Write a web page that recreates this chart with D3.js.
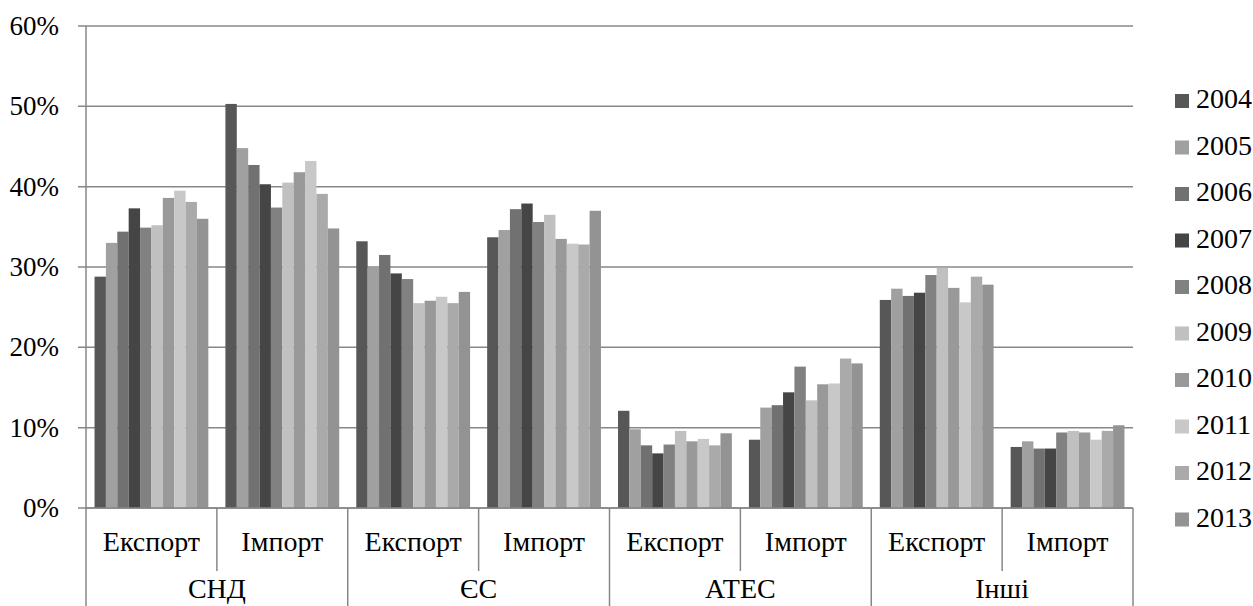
<!DOCTYPE html>
<html>
<head>
<meta charset="utf-8">
<script src="https://cdn.jsdelivr.net/npm/d3@7"></script>
<style>
  html, body { margin: 0; padding: 0; background: #fff; }
  svg { display: block; }
</style>
</head>
<body>
<div id="container"></div>
<script>
// категорії та роки
var regions = ["СНД", "ЄС", "АТЕС", "Інші"];
var flows = ["Експорт", "Імпорт"];
var years = ["2004", "2005", "2006", "2007", "2008", "2009", "2010", "2011", "2012", "2013"];
var yTicks = [0, 0.1, 0.2, 0.3, 0.4, 0.5, 0.6];

// частки, % (2004..2013)
var sndExport  = [28.8, 33.0, 34.4, 37.3, 34.9, 35.2, 38.6, 39.5, 38.1, 36.0];
var sndImport  = [50.3, 44.8, 42.7, 40.3, 37.4, 40.5, 41.8, 43.2, 39.1, 34.8];
var esExport   = [33.2, 30.0, 31.5, 29.2, 28.5, 25.5, 25.8, 26.3, 25.5, 26.9];
var esImport   = [33.7, 34.6, 37.2, 37.9, 35.6, 36.5, 33.5, 32.9, 32.8, 37.0];
var apecExport = [12.1,  9.8,  7.8,  6.8,  7.9,  9.6,  8.3,  8.6,  7.8,  9.3];
var apecImport = [ 8.5, 12.5, 12.8, 14.4, 17.6, 13.4, 15.4, 15.5, 18.6, 18.0];
var otherExport = [25.9, 27.3, 26.4, 26.8, 29.0, 29.9, 27.4, 25.6, 28.8, 27.8];
var otherImport = [ 7.6,  8.3,  7.4,  7.4,  9.4,  9.6,  9.4,  8.5,  9.6, 10.3];

var colors = ["#575757", "#a0a0a0", "#717171", "#454545", "#818181",
              "#c0c0c0", "#999999", "#c8c8c8", "#aaaaaa", "#939393"];

var series = [sndExport, sndImport, esExport, esImport, apecExport, apecImport, otherExport, otherImport];

// таблиця для малювання
var cats = [];
regions.forEach(function(r, ri) {
  flows.forEach(function(f, fi) {
    cats.push({ key: r + "|" + f, region: r, flow: f, values: series[ri * 2 + fi] });
  });
});

var W = 1253, H = 606;
var plotLeft = 86, plotRight = 1133, plotTop = 26, plotBottom = 508;
var gridColor = "#878787";
var font = "Liberation Serif";

var svg = d3.select("#container").append("svg")
  .attr("width", W)
  .attr("height", H);

var x0 = d3.scaleBand()
  .domain(cats.map(function(d) { return d.key; }))
  .range([plotLeft, plotRight]);

var bw = x0.bandwidth();
var pad = bw * 0.75 / 11.5;
var x1 = d3.scaleBand()
  .domain(years)
  .range([pad, bw - pad]);

var y = d3.scaleLinear()
  .domain([0, 0.6])
  .range([plotBottom, plotTop]);

// сітка
svg.append("g")
  .selectAll("line")
  .data(yTicks)
  .enter()
  .append("line")
  .attr("x1", plotLeft - 8)
  .attr("x2", plotRight)
  .attr("y1", function(d) { return y(d); })
  .attr("y2", function(d) { return y(d); })
  .attr("stroke", gridColor)
  .attr("stroke-width", 1.5);

// вісь Y
var yAxis = d3.axisLeft(y)
  .tickValues(yTicks)
  .tickFormat(d3.format(".0%"))
  .tickSize(0)
  .tickPadding(27);

var gy = svg.append("g")
  .attr("transform", "translate(" + plotLeft + ",0)")
  .call(yAxis);
gy.select(".domain").remove();
gy.selectAll("text")
  .attr("font-family", font)
  .attr("font-size", 27)
  .attr("fill", "#000");

svg.append("line")
  .attr("x1", plotLeft).attr("x2", plotLeft)
  .attr("y1", plotTop).attr("y2", H)
  .attr("stroke", gridColor)
  .attr("stroke-width", 1.5);

// стовпчики
var groups = svg.append("g")
  .selectAll("g")
  .data(cats)
  .enter()
  .append("g")
  .attr("transform", function(d) { return "translate(" + x0(d.key) + ",0)"; });

groups.selectAll("rect")
  .data(function(d) { return d.values.map(function(v, i) { return { year: years[i], value: v / 100 }; }); })
  .enter()
  .append("rect")
  .attr("x", function(d) { return x1(d.year); })
  .attr("width", x1.bandwidth())
  .attr("y", function(d) { return y(d.value); })
  .attr("height", function(d) { return plotBottom - y(d.value); })
  .attr("fill", function(d, i) { return colors[i]; });

// вісь X (двоярусна)
svg.append("line")
  .attr("x1", plotLeft).attr("x2", plotRight)
  .attr("y1", plotBottom).attr("y2", plotBottom)
  .attr("stroke", gridColor)
  .attr("stroke-width", 1.5);

var innerY = 571;
cats.forEach(function(d, i) {
  if (i % 2 === 1) {
    svg.append("line")
      .attr("x1", x0(d.key)).attr("x2", x0(d.key))
      .attr("y1", plotBottom).attr("y2", innerY)
      .attr("stroke", gridColor)
      .attr("stroke-width", 1.5);
  }
});

regions.forEach(function(r, ri) {
  var xr = x0(r + "|" + flows[0]) + 2 * bw;
  svg.append("line")
    .attr("x1", xr).attr("x2", xr)
    .attr("y1", plotBottom).attr("y2", H)
    .attr("stroke", gridColor)
    .attr("stroke-width", 1.5);
  svg.append("text")
    .attr("x", x0(r + "|" + flows[0]) + bw)
    .attr("y", 588)
    .attr("dy", ".35em")
    .attr("text-anchor", "middle")
    .attr("font-family", font)
    .attr("font-size", 28)
    .text(r);
});

svg.selectAll(".flow")
  .data(cats)
  .enter()
  .append("text")
  .attr("class", "flow")
  .attr("x", function(d) { return x0(d.key) + bw / 2; })
  .attr("y", 541)
  .attr("dy", ".35em")
  .attr("text-anchor", "middle")
  .attr("font-family", font)
  .attr("font-size", 28)
  .text(function(d) { return d.flow; });

// легенда
var legend = svg.append("g")
  .selectAll("g")
  .data(years)
  .enter()
  .append("g")
  .attr("transform", function(d, i) { return "translate(1175," + (94 + i * 46.5) + ")"; });

legend.append("rect")
  .attr("width", 14)
  .attr("height", 14)
  .attr("fill", function(d, i) { return colors[i]; });

legend.append("text")
  .attr("x", 21)
  .attr("y", 14)
  .attr("font-family", font)
  .attr("font-size", 28)
  .text(function(d) { return d; });
</script>
</body>
</html>
